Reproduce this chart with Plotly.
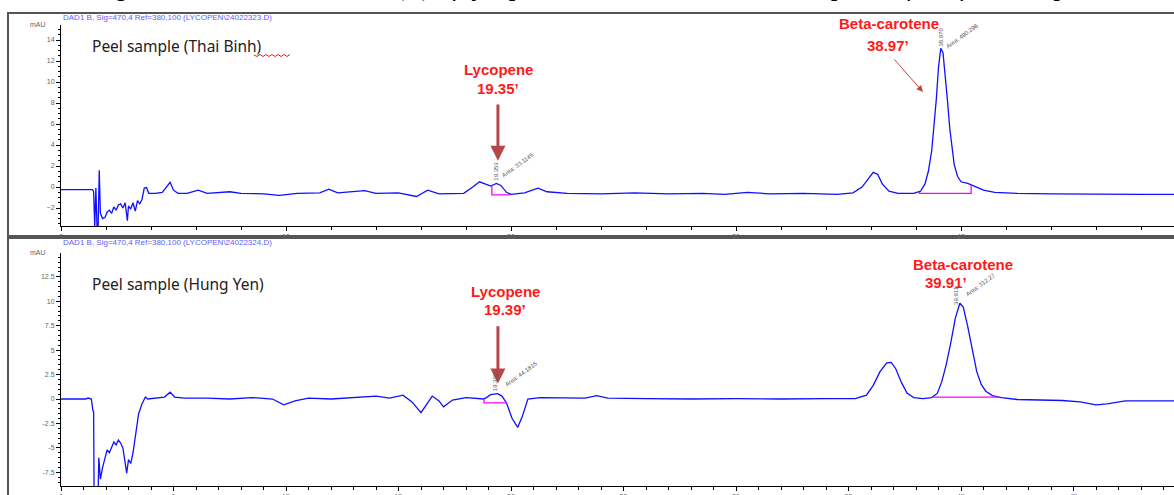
import plotly.graph_objects as go

W, H = 1174, 495

# ---------------- data: Thai Binh peel sample (top) ----------------
top_t = [0.0, 1.40, 1.45, 1.50, 1.55, 1.60, 1.65, 1.70, 1.75, 1.85, 1.95, 2.05, 2.15, 2.25, 2.35,
         2.45, 2.55, 2.65, 2.75, 2.85, 2.95, 3.00, 3.10, 3.20, 3.30, 3.40, 3.50, 3.60, 3.70, 3.80,
         3.90, 4.20, 4.50, 4.70, 4.85, 5.00, 5.20, 5.60, 6.10, 6.50, 7.50, 8.00, 9.00, 9.70, 10.5,
         11.5, 11.9, 12.3, 13.5, 14.0, 15.0, 15.8, 16.3, 16.8, 17.9, 18.3, 18.6, 18.9, 19.1, 19.35,
         19.55, 19.8, 20.0, 20.6, 21.2, 21.6, 22.5, 24.0, 25.5, 27.0, 28.5, 29.5, 30.5, 31.5, 33.0,
         34.5, 35.2, 35.6, 35.9, 36.1, 36.3, 36.5, 36.8, 37.2, 37.9, 38.2, 38.4, 38.55, 38.7, 38.8,
         38.9, 39.0, 39.1, 39.2, 39.3, 39.4, 39.5, 39.6, 39.7, 39.85, 40.0, 40.3, 40.6, 41.0, 41.5,
         42.5, 44.0, 46.0, 48.0, 49.5]
top_v = [-0.25, -0.25, -0.45, -3.8, -0.1, -3.8, -3.8, 1.6, -2.5, -3.0, -2.9, -2.4, -2.2, -2.5, -1.9,
         -2.2, -1.7, -1.6, -2.0, -1.5, -3.2, -1.8, -2.1, -1.5, -2.3, -1.3, -1.6, -1.2, -0.1, -0.05,
         -0.6, -0.6, -0.5, 0.0, 0.45, -0.3, -0.6, -0.6, -0.3, -0.6, -0.45, -0.6, -0.65, -0.8, -0.6,
         -0.55, -0.2, -0.55, -0.35, -0.6, -0.55, -0.9, -0.3, -0.65, -0.6, 0.0, 0.5, 0.25, 0.1, 0.35,
         0.15, -0.5, -0.7, -0.55, -0.1, -0.45, -0.6, -0.65, -0.55, -0.65, -0.6, -0.7, -0.5, -0.65, -0.6,
         -0.7, -0.55, 0.0, 0.9, 1.4, 1.2, 0.3, -0.4, -0.6, -0.6, -0.4, 0.3, 1.5, 3.5, 5.6,
         8.3, 11.4, 13.2, 12.8, 10.8, 8.2, 5.6, 3.6, 2.1, 1.0, 0.5, 0.35, 0.1, -0.3, -0.5,
         -0.6, -0.65, -0.7, -0.7, -0.7]

# integration baselines (top)
top_lyc_base_t = [19.15, 19.15, 19.95]
top_lyc_base_v = [0.15, -0.75, -0.75]
top_bc_base_t = [38.15, 38.15, 40.45, 40.45]
top_bc_base_v = [-0.45, -0.6, -0.6, 0.2]

# ---------------- data: Hung Yen peel sample (bottom) ----------------
bot_t = [0.0, 1.1, 1.2, 1.35, 1.42, 1.45, 1.47, 1.65, 1.68, 1.75, 1.85, 1.95, 2.05, 2.15, 2.25,
         2.35, 2.45, 2.55, 2.65, 2.75, 2.85, 2.92, 3.00, 3.10, 3.20, 3.30, 3.45, 3.60, 3.75, 3.85,
         4.20, 4.60, 4.85, 5.05, 5.50, 6.50, 7.50, 8.50, 9.40, 9.90, 10.4, 11.0, 12.0, 13.0, 14.0,
         14.6, 15.2, 15.6, 16.0, 16.5, 16.8, 17.0, 17.4, 18.0, 18.8, 19.1, 19.4, 19.6, 19.8, 20.05,
         20.3, 20.5, 20.75, 21.3, 22.5, 23.3, 23.8, 24.3, 26.0, 28.0, 30.0, 32.0, 34.0, 35.3, 35.8,
         36.1, 36.4, 36.7, 36.9, 37.1, 37.35, 37.6, 37.9, 38.3, 38.7, 38.95, 39.15, 39.35, 39.55, 39.75,
         39.95, 40.1, 40.3, 40.5, 40.7, 40.9, 41.1, 41.4, 41.8, 42.5, 43.5, 44.5, 45.3, 46.0, 46.5,
         47.3, 48.5, 49.5]
bot_v = [0.0, 0.0, 0.1, 0.0, -1.2, -1.3, -9.5, -9.5, -6.0, -8.2, -7.0, -6.0, -5.2, -5.5, -5.0,
         -4.4, -4.7, -4.2, -4.5, -5.0, -6.5, -7.6, -6.2, -6.6, -5.5, -4.0, -1.5, -0.5, 0.2, 0.0,
         0.1, 0.2, 0.7, 0.2, 0.1, 0.1, 0.0, 0.15, 0.0, -0.6, -0.2, 0.1, 0.0, 0.15, 0.3,
         0.1, 0.4, -0.3, -1.4, 0.3, -0.2, -0.8, -0.1, 0.15, 0.0, 0.45, 0.55, 0.3, -0.4, -2.0,
         -2.9, -1.8, 0.0, 0.15, 0.1, 0.1, 0.35, 0.1, 0.05, 0.0, 0.05, 0.0, 0.05, 0.05, 0.4,
         1.4, 2.8, 3.7, 3.75, 3.1, 1.7, 0.6, 0.15, 0.05, 0.15, 0.6, 1.8, 3.6, 5.8, 8.3,
         9.8, 9.4, 7.4, 4.9, 2.8, 1.5, 0.8, 0.35, 0.15, -0.05, -0.1, -0.15, -0.3, -0.6, -0.5,
         -0.2, -0.2, -0.2]

bot_lyc_base_t = [18.8, 18.8, 19.8]
bot_lyc_base_v = [0.0, -0.4, -0.4]
bot_bc_base_t = [38.75, 41.7]
bot_bc_base_v = [0.2, 0.2]

# ticks
top_yticks = [-2, 0, 2, 4, 6, 8, 10, 12, 14]
bot_yticks = [-7.5, -5, -2.5, 0, 2.5, 5, 7.5, 10, 12.5]
top_xticks = [0, 10, 20, 30, 40]
bot_xticks = [0, 5, 10, 15, 20, 25, 30, 35, 40, 45]

# peak labels: (panel, RT text, x, y, area text, x, y)
peaks = [
    ("1", "19.353", 19.35, 1.5, "Area: 33.1145", 20.3, 2.1),
    ("1", "38.970", 39.1, 14.3, "Area: 490.296", 40.05, 14.4),
    ("2", "19.392", 19.3, 1.75, "Area: 44.1815", 20.45, 2.6),
    ("2", "39.911", 39.8, 10.6, "Area: 312.27", 40.85, 11.7),
]

# ---------------- geometry helpers ----------------
def px(x):
    return x / W

def py(y):
    return 1 - y / H

X0 = 61
fig = go.Figure()

blue = "#1010ff"
mag = "#ff00ff"

fig.add_trace(go.Scatter(x=top_t, y=top_v, mode="lines", line=dict(color=blue, width=1.3),
                         xaxis="x", yaxis="y", showlegend=False, hoverinfo="skip"))
fig.add_trace(go.Scatter(x=top_lyc_base_t, y=top_lyc_base_v, mode="lines", line=dict(color=mag, width=1.3),
                         xaxis="x", yaxis="y", showlegend=False))
fig.add_trace(go.Scatter(x=top_bc_base_t, y=top_bc_base_v, mode="lines", line=dict(color=mag, width=1.3),
                         xaxis="x", yaxis="y", showlegend=False))
fig.add_trace(go.Scatter(x=bot_t, y=bot_v, mode="lines", line=dict(color=blue, width=1.3),
                         xaxis="x2", yaxis="y2", showlegend=False, hoverinfo="skip"))
fig.add_trace(go.Scatter(x=bot_lyc_base_t, y=bot_lyc_base_v, mode="lines", line=dict(color=mag, width=1.3),
                         xaxis="x2", yaxis="y2", showlegend=False))
fig.add_trace(go.Scatter(x=bot_bc_base_t, y=bot_bc_base_v, mode="lines", line=dict(color=mag, width=1.3),
                         xaxis="x2", yaxis="y2", showlegend=False))

tickfont = dict(family="Liberation Sans", size=7, color="#666")
xr = [0, (W - X0) / 22.5]

common_x = dict(showline=True, linecolor="black", linewidth=1, ticks="outside", ticklen=4,
                tickcolor="black", showgrid=False, zeroline=False, tickfont=tickfont,
                range=xr, domain=[px(X0), 1], automargin=False)
common_y = dict(showline=True, linecolor="black", linewidth=1, ticks="outside", ticklen=4,
                tickcolor="black", showgrid=False, zeroline=False, tickfont=tickfont,
                automargin=False)

fig.update_layout(
    width=W, height=H, margin=dict(l=0, r=0, t=0, b=0, autoexpand=False),
    paper_bgcolor="white", plot_bgcolor="white",
    xaxis=dict(**common_x, anchor="y", tickvals=top_xticks,
               minor=dict(dtick=2, ticks="outside", ticklen=3, tickcolor="black")),
    yaxis=dict(**common_y, anchor="x", domain=[py(226), py(25)], range=[-3.71, 15.43],
               tickvals=top_yticks,
               minor=dict(dtick=0.5, ticks="outside", ticklen=2, tickcolor="black")),
    xaxis2=dict(**common_x, anchor="y2", tickvals=bot_xticks,
                minor=dict(dtick=1, ticks="outside", ticklen=3, tickcolor="black")),
    yaxis2=dict(**common_y, anchor="x2", domain=[py(486), py(253)], range=[-8.9, 14.94],
                tickvals=bot_yticks, ticktext=[str(v) for v in bot_yticks],
                minor=dict(dtick=0.5, ticks="outside", ticklen=2, tickcolor="black")),
)

ann = []
# caption (cut at top edge)
ann.append(dict(xref="paper", yref="paper", x=px(595), y=py(3), xanchor="center", yanchor="bottom",
                text="<i>Figure 4. The concentration (C) of lycopene and beta-carotene in the peels of the fruit samples</i>",
                showarrow=False, font=dict(family="Liberation Serif", size=26.5, color="black")))

hdr_font = dict(family="Liberation Sans", size=8, color="#6060ff")
ann.append(dict(xref="paper", yref="paper", x=px(61), y=py(17), xanchor="left", yanchor="middle",
                text="DAD1 B, Sig=470,4 Ref=380,100 (LYCOPEN\\24022323.D)", showarrow=False, font=hdr_font))
ann.append(dict(xref="paper", yref="paper", x=px(61), y=py(242), xanchor="left", yanchor="middle",
                text="DAD1 B, Sig=470,4 Ref=380,100 (LYCOPEN\\24022324.D)", showarrow=False, font=hdr_font))
for yy in (25, 253):
    ann.append(dict(xref="paper", yref="paper", x=px(38), y=py(yy), xanchor="center", yanchor="middle",
                    text="mAU", showarrow=False, font=dict(family="Liberation Sans", size=7, color="#666")))

sample_font = dict(family="Noto Sans", size=15.5, color="#222")
ann.append(dict(xref="paper", yref="paper", x=px(90), y=py(46), xanchor="left", yanchor="middle",
                text="Peel sample (Thai Binh)", showarrow=False, font=sample_font))
ann.append(dict(xref="paper", yref="paper", x=px(90), y=py(284), xanchor="left", yanchor="middle",
                text="Peel sample (Hung Yen)", showarrow=False, font=sample_font))

red_font = dict(family="Liberation Sans", size=15, color="#ff1a1a")
labels = [(498, 69, "<b>Lycopene</b>"), (498, 88, "<b>19.35\u2019</b>"),
          (889, 24, "<b>Beta-carotene</b>"), (888, 45, "<b>38.97\u2019</b>"),
          (505, 291, "<b>Lycopene</b>"), (505, 309, "<b>19.39\u2019</b>"),
          (963, 264, "<b>Beta-carotene</b>"), (946, 282, "<b>39.91\u2019</b>")]
for xx, yy, tx in labels:
    ann.append(dict(xref="paper", yref="paper", x=px(xx), y=py(yy), text=tx, showarrow=False,
                    font=red_font, xanchor="center", yanchor="middle"))

# arrows
arrow_col = "#b5474a"
ann.append(dict(xref="x", yref="y", x=19.42, y=2.5, ax=19.42, ay=8.0, axref="x", ayref="y",
                showarrow=True, arrowhead=2, arrowsize=1, arrowwidth=3, arrowcolor=arrow_col, text=""))
ann.append(dict(xref="x2", yref="y2", x=19.42, y=1.6, ax=19.42, ay=7.6, axref="x2", ayref="y2",
                showarrow=True, arrowhead=2, arrowsize=1, arrowwidth=3, arrowcolor=arrow_col, text=""))
ann.append(dict(xref="x", yref="y", x=38.31, y=9.05, ax=36.98, ay=12.3, axref="x", ayref="y",
                showarrow=True, arrowhead=2, arrowsize=1.3, arrowwidth=1, arrowcolor="#c04848", text=""))

# peak labels (rotated)
pk_font = dict(family="Liberation Sans", size=6, color="#555")
for ax_, rt, tx, ty, area, axx, ayy in peaks:
    xr_ = "x" if ax_ == "1" else "x2"
    yr_ = "y" if ax_ == "1" else "y2"
    ann.append(dict(xref=xr_, yref=yr_, x=tx, y=ty, text=rt, textangle=-90, showarrow=False,
                    font=pk_font, xanchor="center", yanchor="middle"))
    ann.append(dict(xref=xr_, yref=yr_, x=axx, y=ayy, text=area, textangle=-36, showarrow=False,
                    font=pk_font, xanchor="center", yanchor="middle"))

fig.update_layout(annotations=ann)

# frames
frame = dict(color="#555", width=2)
shapes = [
    dict(type="rect", xref="paper", yref="paper", x0=px(8), x1=px(W + 10), y0=py(236), y1=py(13),
         line=frame, layer="below"),
    dict(type="rect", xref="paper", yref="paper", x0=px(8), x1=px(W + 10), y0=py(H + 10), y1=py(238),
         line=frame, layer="below"),
]
# spell-check squiggle under "Binh"
sq = "M %f,%f" % (px(254), py(55))
for i in range(1, 13):
    xx = 254 + i * 3
    yy = 55 + (1.5 if i % 2 else -0.5)
    sq += " L %f,%f" % (px(xx), py(yy))
shapes.append(dict(type="path", xref="paper", yref="paper", path=sq, line=dict(color="#e02020", width=1)))
fig.update_layout(shapes=shapes)

fig.write_html("out.html", config={"displayModeBar": False, "staticPlot": True},
               post_script="document.body.style.margin='0px';document.body.style.overflow='hidden';")
